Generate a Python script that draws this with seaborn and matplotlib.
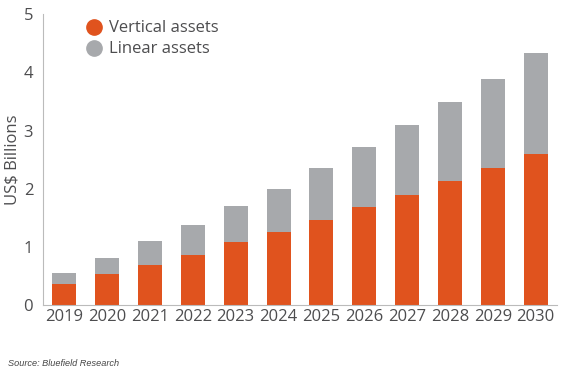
import matplotlib
matplotlib.use("Agg")
import matplotlib.pyplot as plt
import pandas as pd
import seaborn as sns
from matplotlib.lines import Line2D

years = ["2019", "2020", "2021", "2022", "2023", "2024",
         "2025", "2026", "2027", "2028", "2029", "2030"]
vertical = [0.36, 0.53, 0.69, 0.87, 1.08, 1.26, 1.47, 1.69, 1.90, 2.13, 2.35, 2.60]
total = [0.56, 0.81, 1.10, 1.37, 1.70, 2.00, 2.36, 2.71, 3.09, 3.49, 3.89, 4.33]

orange = "#E0531E"
grey = "#A7A9AC"
text_col = "#4D4D4F"

sns.set_style("white")
plt.rcParams["font.family"] = ["Open Sans", "DejaVu Sans"]

df = pd.DataFrame({"Year": years, "Vertical": vertical, "Total": total})

fig = plt.figure(figsize=(5.87, 3.81), dpi=100)
ax = fig.add_axes([0.073, 0.199, 0.876, 0.764])

# stacked look: total bar in grey behind, vertical share in orange on top
sns.barplot(data=df, x="Year", y="Total", color=grey, width=0.56,
            saturation=1, linewidth=0, ax=ax)
sns.barplot(data=df, x="Year", y="Vertical", color=orange, width=0.56,
            saturation=1, linewidth=0, ax=ax)

ax.set_ylim(0, 5)
ax.set_yticks([0, 1, 2, 3, 4, 5])
ax.set_xlim(-0.5, len(years) - 0.5)
ax.set_xlabel("")
ax.set_ylabel("US$ Billions", fontsize=12, color=text_col, labelpad=2)
ax.tick_params(axis="both", labelsize=12, colors=text_col)
ax.tick_params(axis="y", length=3, width=0.6, color="#BBBBBB", pad=4)
ax.tick_params(axis="x", length=0, pad=3)

for s in ["top", "right"]:
    ax.spines[s].set_visible(False)
for s in ["left", "bottom"]:
    ax.spines[s].set_color("#BBBBBB")
    ax.spines[s].set_linewidth(0.8)

handles = [
    Line2D([], [], marker="o", linestyle="", markersize=11, color=orange),
    Line2D([], [], marker="o", linestyle="", markersize=11, color=grey),
]
leg = ax.legend(handles, ["Vertical assets", "Linear assets"], loc="upper left",
                bbox_to_anchor=(0.05, 1.03), frameon=False, fontsize=12,
                handletextpad=0.3, labelspacing=0.3, handlelength=1.2)
for t in leg.get_texts():
    t.set_color(text_col)

fig.text(0.014, 0.04, "Source: Bluefield Research", fontsize=6.6, style="italic",
         color="#444444", family=["Liberation Sans", "DejaVu Sans"])

fig.savefig("out.png", dpi=100)
